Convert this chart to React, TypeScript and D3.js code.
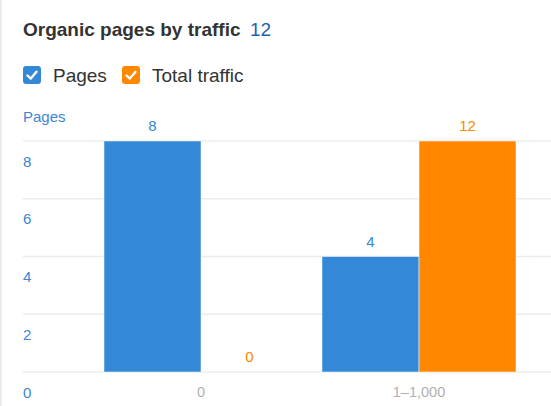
import React from "react";
import * as d3 from "d3";

const categories = ["0", "1–1,000"];
const series = ["Pages", "Total traffic"];
const pagesValues = [8, 4];
const trafficValues = [0, 12];
const yTicks = [0, 2, 4, 6, 8];
const titleText = "Organic pages by traffic";
const titleCount = "12";

const W = 551;
const H = 406;
const BLUE = "#3388d7";
const ORANGE = "#ff8800";
const FONT = "'Liberation Sans', Arial, sans-serif";

export default function App() {
  const x = d3.scaleBand<string>().domain(categories).range([92, 528]).padding(0);
  const inner = d3.scaleBand<string>().domain(series).range([12, x.bandwidth() - 12]).padding(0);
  const yPages = d3.scaleLinear().domain([0, 8]).range([372, 141]);
  const yTraffic = d3.scaleLinear().domain([0, 12]).range([372, 141]);

  const bars: { cat: string; s: string; v: number; y: number; color: string }[] = [];
  categories.forEach((c, i) => {
    bars.push({ cat: c, s: series[0], v: pagesValues[i], y: yPages(pagesValues[i]), color: BLUE });
    bars.push({ cat: c, s: series[1], v: trafficValues[i], y: yTraffic(trafficValues[i]), color: ORANGE });
  });

  const check = (x0: number, y0: number, color: string) => (
    <g transform={`translate(${x0},${y0})`}>
      <rect width={18} height={18} rx={3} fill={color} />
      <path d="M4.5 9.5 L7.8 12.6 L13.5 5.8" fill="none" stroke="#fff" strokeWidth={2.4} strokeLinecap="round" strokeLinejoin="round" />
    </g>
  );

  return (
    <svg width={W} height={H} style={{ position: "absolute", left: 0, top: 0, fontFamily: FONT }}>
      <rect x={0} y={0} width={W} height={H} fill="#fff" />
      <rect x={0} y={0} width={2} height={H} fill="#ebebeb" />
      <text x={23} y={36} fontSize={19} fontWeight="bold" fill="#333">{titleText}</text>
      <text x={250} y={36} fontSize={19} fill="#1f62ad">{titleCount}</text>

      {check(23, 66, BLUE)}
      <text x={53} y={82} fontSize={19} fill="#333">{series[0]}</text>
      {check(122, 66, ORANGE)}
      <text x={152} y={82} fontSize={19} fill="#333">{series[1]}</text>

      <text x={23} y={122} fontSize={15} fill="#3b86d6">Pages</text>
      {yTicks.map((t) => (
        <line key={t} x1={23} x2={W} y1={yPages(t)} y2={yPages(t)} stroke="#ececec" strokeWidth={1.5} />
      ))}
      {yTicks.map((t) => (
        <text key={"l" + t} x={23} y={yPages(t) + 25.5} fontSize={15} fill="#3b86d6">{t}</text>
      ))}

      {bars.map((b, i) => {
        const bx = (x(b.cat) as number) + (inner(b.s) as number);
        return (
          <g key={i}>
            {b.v > 0 && (
              <rect x={bx} y={b.y} width={inner.bandwidth()} height={372 - b.y} fill={b.color} stroke="rgba(255,255,255,0.5)" strokeWidth={1} />
            )}
            <text x={bx + inner.bandwidth() / 2} y={b.y - 10} fontSize={15} fill={b.color} textAnchor="middle">{b.v}</text>
          </g>
        );
      })}

      {categories.map((c) => (
        <text key={c} x={(x(c) as number) + x.bandwidth() / 2} y={397} fontSize={14.5} fill="#b0b0b0" textAnchor="middle">{c}</text>
      ))}
    </svg>
  );
}
